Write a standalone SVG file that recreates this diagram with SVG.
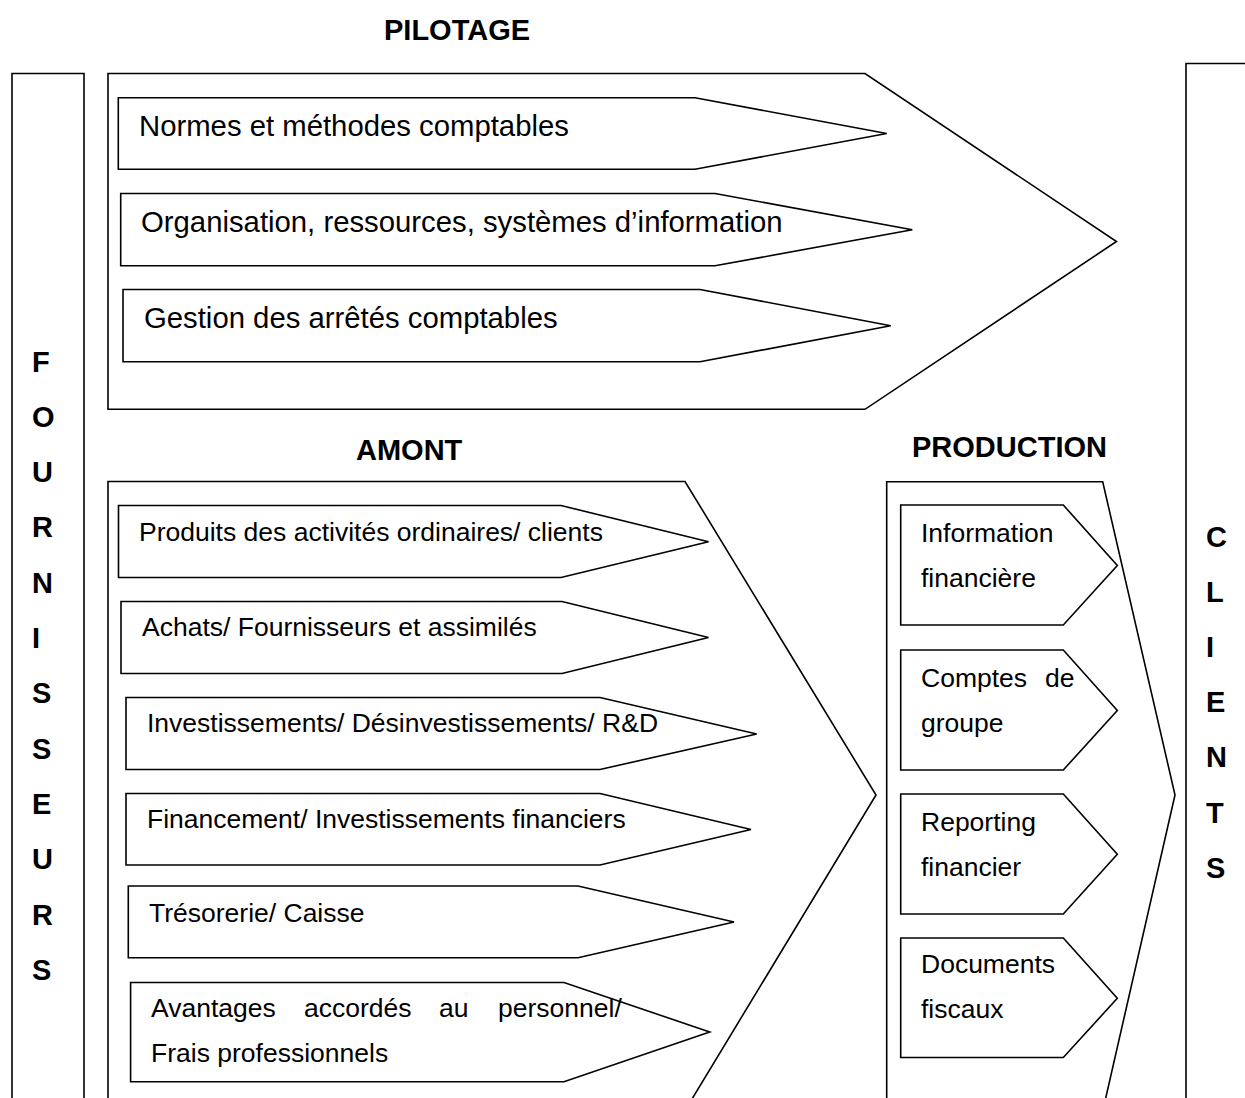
<svg xmlns="http://www.w3.org/2000/svg" width="1245" height="1098" viewBox="0 0 1245 1098">
  <style>
    .shape { fill: #ffffff; stroke: #000000; stroke-width: 1.6; stroke-linejoin: miter; }
    .edge { fill: none; stroke: #000000; stroke-width: 1.6; }
    .head { font-family: "Liberation Sans", Arial, sans-serif; font-weight: bold; font-size: 29px; fill: #000000; }
    .big { font-family: "Liberation Sans", Arial, sans-serif; font-size: 29.3px; fill: #000000; }
    .txt { font-family: "Liberation Sans", Arial, sans-serif; font-size: 26.5px; fill: #000000; }
  </style>
  <rect width="1245" height="1098" fill="#ffffff"/>

  <!-- Section titles -->
  <g id="titles">
    <text class="head" x="384" y="39.5">PILOTAGE</text>
    <text class="head" x="356" y="460">AMONT</text>
    <text class="head" x="912" y="456.5">PRODUCTION</text>
  </g>

  <!-- Suppliers column (open at the bottom) -->
  <g id="fournisseurs">
    <path class="edge" d="M12,1099 V73.5 H84 V1099"/>
    <text class="head" x="32" y="371.5">F</text>
    <text class="head" x="32" y="426.8">O</text>
    <text class="head" x="32" y="482.1">U</text>
    <text class="head" x="32" y="537.4">R</text>
    <text class="head" x="32" y="592.7">N</text>
    <text class="head" x="32" y="648">I</text>
    <text class="head" x="32" y="703.3">S</text>
    <text class="head" x="32" y="758.6">S</text>
    <text class="head" x="32" y="813.9">E</text>
    <text class="head" x="32" y="869.2">U</text>
    <text class="head" x="32" y="924.5">R</text>
    <text class="head" x="32" y="979.8">S</text>
  </g>

  <!-- Clients column (open at the right and bottom) -->
  <g id="clients">
    <path class="edge" d="M1186,1099 V63.5 H1246"/>
    <text class="head" x="1206" y="546.5">C</text>
    <text class="head" x="1206" y="601.7">L</text>
    <text class="head" x="1206" y="656.9">I</text>
    <text class="head" x="1206" y="712.1">E</text>
    <text class="head" x="1206" y="767.3">N</text>
    <text class="head" x="1206" y="822.5">T</text>
    <text class="head" x="1206" y="877.7">S</text>
  </g>

  <!-- PILOTAGE block -->
  <g id="pilotage">
    <polygon class="shape" points="108,73.5 865,73.5 1116.5,241.5 865,409.3 108,409.3"/>
    <g id="pilotage-normes">
      <polygon class="shape" points="118.3,97.7 695,97.7 886.7,133.5 695,169.3 118.3,169.3"/>
      <text class="big" x="139" y="136">Normes et méthodes comptables</text>
    </g>
    <g id="pilotage-organisation">
      <polygon class="shape" points="120.7,193.5 715,193.5 912.3,229.7 715,265.8 120.7,265.8"/>
      <text class="big" x="141" y="231.8">Organisation, ressources, systèmes d’information</text>
    </g>
    <g id="pilotage-arretes">
      <polygon class="shape" points="123,289.5 700,289.5 890.7,325.7 700,361.8 123,361.8"/>
      <text class="big" x="144" y="327.6">Gestion des arrêtés comptables</text>
    </g>
  </g>

  <!-- AMONT block (cut at the bottom) -->
  <g id="amont">
    <path class="shape" d="M108,1099 V481.5 H685 L876,795 L692,1099"/>
    <g id="amont-produits">
      <polygon class="shape" points="118.5,505.5 561,505.5 708.5,541.7 561,577.5 118.5,577.5"/>
      <text class="txt" x="139" y="540.8">Produits des activités ordinaires/ clients</text>
    </g>
    <g id="amont-achats">
      <polygon class="shape" points="121,601.5 562,601.5 708.5,637.5 562,673.5 121,673.5"/>
      <text class="txt" x="142" y="635.8">Achats/ Fournisseurs et assimilés</text>
    </g>
    <g id="amont-investissements">
      <polygon class="shape" points="126,697.5 600,697.5 756.7,734 600,769.5 126,769.5"/>
      <text class="txt" x="147" y="731.5">Investissements/ Désinvestissements/ R&amp;D</text>
    </g>
    <g id="amont-financement">
      <polygon class="shape" points="126,793.5 600,793.5 751,829.5 600,865 126,865"/>
      <text class="txt" x="147" y="827.5">Financement/ Investissements financiers</text>
    </g>
    <g id="amont-tresorerie">
      <polygon class="shape" points="128.3,886 578,886 734,922 578,957.7 128.3,957.7"/>
      <text class="txt" x="149" y="921.7">Trésorerie/ Caisse</text>
    </g>
    <g id="amont-avantages">
      <polygon class="shape" points="130.6,982.5 564,982.5 709.7,1032 564,1081.7 130.6,1081.7"/>
      <text class="txt" y="1017.3"><tspan x="151">Avantages</tspan><tspan x="304">accordés</tspan><tspan x="439">au</tspan><tspan x="498">personnel/</tspan></text>
      <text class="txt" x="151" y="1062.3">Frais professionnels</text>
    </g>
  </g>

  <!-- PRODUCTION block (cut at the bottom) -->
  <g id="production">
    <path class="shape" d="M886.7,1099 V481.7 H1102.7 L1175,795 L1105.5,1099"/>
    <g id="production-information">
      <polygon class="shape" points="900.7,505 1063.3,505 1117.3,565.5 1063.3,625 900.7,625"/>
      <text class="txt" x="921" y="541.5">Information</text>
      <text class="txt" x="921" y="587">financière</text>
    </g>
    <g id="production-comptes">
      <polygon class="shape" points="900.7,650 1063.3,650 1117.3,710.5 1063.3,770 900.7,770"/>
      <text class="txt" x="921" y="686.5">Comptes</text>
      <text class="txt" x="1045" y="686.5">de</text>
      <text class="txt" x="921" y="732">groupe</text>
    </g>
    <g id="production-reporting">
      <polygon class="shape" points="900.7,794 1063.3,794 1117.3,854.3 1063.3,914 900.7,914"/>
      <text class="txt" x="921" y="830.5">Reporting</text>
      <text class="txt" x="921" y="876">financier</text>
    </g>
    <g id="production-fiscaux">
      <polygon class="shape" points="900.7,938 1063.3,938 1117.3,998.3 1063.3,1057.5 900.7,1057.5"/>
      <text class="txt" x="921" y="972.8">Documents</text>
      <text class="txt" x="921" y="1018.3">fiscaux</text>
    </g>
  </g>
</svg>
